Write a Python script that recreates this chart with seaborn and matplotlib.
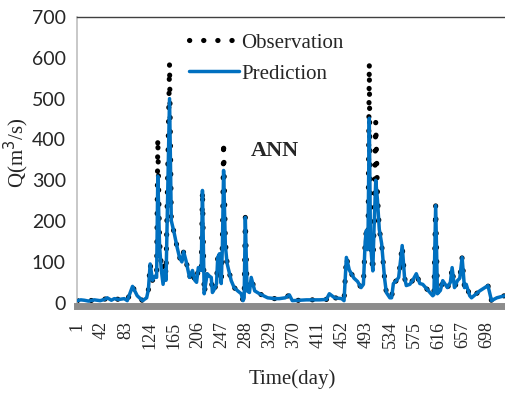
import matplotlib
matplotlib.use("Agg")
import matplotlib.pyplot as plt
import numpy as np
import pandas as pd
import seaborn as sns

# ---- data ----
days = [1, 7, 13, 20, 30, 40, 47, 52, 59, 64, 72, 81, 86, 95, 103, 112, 119, 122, 125, 129,
        133, 136, 138, 141, 144, 147, 150, 152, 158, 161, 166, 171, 175, 179, 182, 186, 192, 197,
        201, 204, 207, 210, 212, 214, 217, 222, 226, 229, 231, 235, 238, 240, 243, 246, 248, 250,
        253, 256, 263, 268, 274, 280, 283, 285, 287, 290, 294, 297, 303, 311, 325, 337, 345, 355,
        362, 367, 391, 413, 425, 430, 439, 451, 455, 459, 464, 472, 478, 484, 488, 491, 493, 495,
        496, 498, 500, 502, 504, 506, 509, 512, 515, 519, 524, 527, 533, 536, 539, 544, 548, 551,
        554, 558, 561, 567, 572, 578, 584, 589, 601, 606, 608, 611, 614, 619, 623, 631, 636, 639,
        643, 648, 652, 656, 660, 663, 669, 672, 686, 700, 706, 715, 728]

observation = [5, 7, 6, 4, 7, 5, 8, 12, 6, 10, 8, 10, 5, 40, 17, 5, 12, 32, 95, 55,
               65, 62, 403, 150, 90, 79, 100, 70, 587, 201, 170, 135, 111, 100, 125, 103, 62, 79,
               55, 50, 86, 80, 79, 275, 22, 71, 65, 62, 25, 35, 47, 111, 120, 47, 150, 394,
               150, 96, 54, 37, 29, 22, 5, 12, 209, 29, 25, 62, 29, 22, 12, 10, 10, 12,
               19, 5, 7, 7, 8, 22, 12, 10, 5, 111, 80, 60, 52, 37, 45, 150, 177, 130,
               180, 587, 160, 110, 78, 180, 443, 260, 180, 145, 60, 25, 12, 12, 47, 54, 62, 100,
               140, 62, 42, 45, 55, 71, 47, 45, 25, 17, 20, 238, 22, 30, 54, 37, 50, 86,
               37, 54, 60, 111, 37, 45, 17, 12, 29, 42, 5, 12, 17]

prediction = [5, 7, 6, 4, 7, 5, 8, 12, 6, 10, 8, 10, 5, 40, 17, 5, 12, 32, 95, 55,
              65, 62, 310, 140, 80, 45, 80, 55, 500, 201, 170, 135, 111, 100, 125, 103, 62, 79,
              55, 50, 86, 80, 79, 275, 22, 71, 65, 62, 25, 35, 47, 111, 120, 47, 140, 324,
              140, 96, 54, 37, 29, 22, 5, 12, 209, 29, 25, 62, 29, 22, 12, 10, 10, 12,
              19, 5, 7, 7, 8, 22, 12, 10, 5, 111, 80, 60, 52, 37, 45, 150, 177, 130,
              180, 452, 150, 110, 78, 180, 300, 250, 180, 145, 60, 25, 12, 12, 47, 54, 62, 100,
              140, 62, 42, 45, 55, 71, 47, 45, 25, 17, 20, 238, 22, 30, 54, 37, 50, 86,
              37, 54, 60, 111, 37, 45, 17, 12, 29, 42, 5, 12, 17]

x_ticks = [1, 42, 83, 124, 165, 206, 247, 288, 329, 370, 411, 452, 493, 534, 575, 616, 657, 698]
y_ticks = [0, 100, 200, 300, 400, 500, 600, 700]

df = pd.DataFrame({"day": days, "Observation": observation, "Prediction": prediction})

sns.set_style("white")
plt.rcParams["font.family"] = ["Liberation Serif", "DejaVu Serif"]

fig = plt.figure(figsize=(5.05, 3.94), dpi=100)
ax = fig.add_axes([0.1525, 0.2317, 0.8475, 0.7252])

sns.lineplot(data=df, x="day", y="Observation", ax=ax, color="black", linewidth=3.7,
             label="Observation", zorder=2)
obs_line = ax.lines[-1]
obs_line.set_linestyle((0, (0.05, 2.7)))
obs_line.set_dash_capstyle("round")

sns.lineplot(data=df, x="day", y="Prediction", ax=ax, color="#0070C0", linewidth=2.5,
             label="Prediction", zorder=3)
ax.lines[-1].set_solid_capstyle("round")

ax.set_xlim(0.5, 729)
ax.set_ylim(0, 700)
ax.set_xticks(x_ticks)
ax.set_yticks(y_ticks)
ax.tick_params(axis="x", labelrotation=90, length=0, pad=11, labelsize=13)
ax.tick_params(axis="y", length=0, pad=8, labelsize=14)
ax.set_xticklabels([str(t) for t in x_ticks], family="Lato", fontsize=13, rotation=90)
ax.set_yticklabels([str(t) for t in y_ticks], family="Lato", fontsize=14)

ax.spines["right"].set_visible(False)
ax.spines["top"].set_color("#404040")
ax.spines["top"].set_linewidth(1.0)
ax.spines["left"].set_color("#bfbfbf")
ax.spines["left"].set_linewidth(1.2)
ax.spines["bottom"].set_color("#8c8c8c")
ax.spines["bottom"].set_linewidth(5)
ax.spines["bottom"].set_position(("outward", 2.5))
ax.spines["bottom"].set_zorder(4)

ax.set_xlabel("Time(day)", fontsize=15)
ax.set_ylabel("Q(m$^3$/s)", fontsize=15)
ax.xaxis.set_label_coords(0.502, -0.232)
ax.yaxis.set_label_coords(-0.108, 0.526)

ax.text(0.405, 0.53, "ANN", transform=ax.transAxes, fontsize=16, fontweight="bold",
        ha="left", va="center")

leg = ax.legend(loc="upper left", bbox_to_anchor=(0.228, 0.995), frameon=False,
                fontsize=15, handlelength=2.4, handletextpad=0.1, labelspacing=0.55,
                borderpad=0.2)

fig.savefig("out.png", dpi=100)
